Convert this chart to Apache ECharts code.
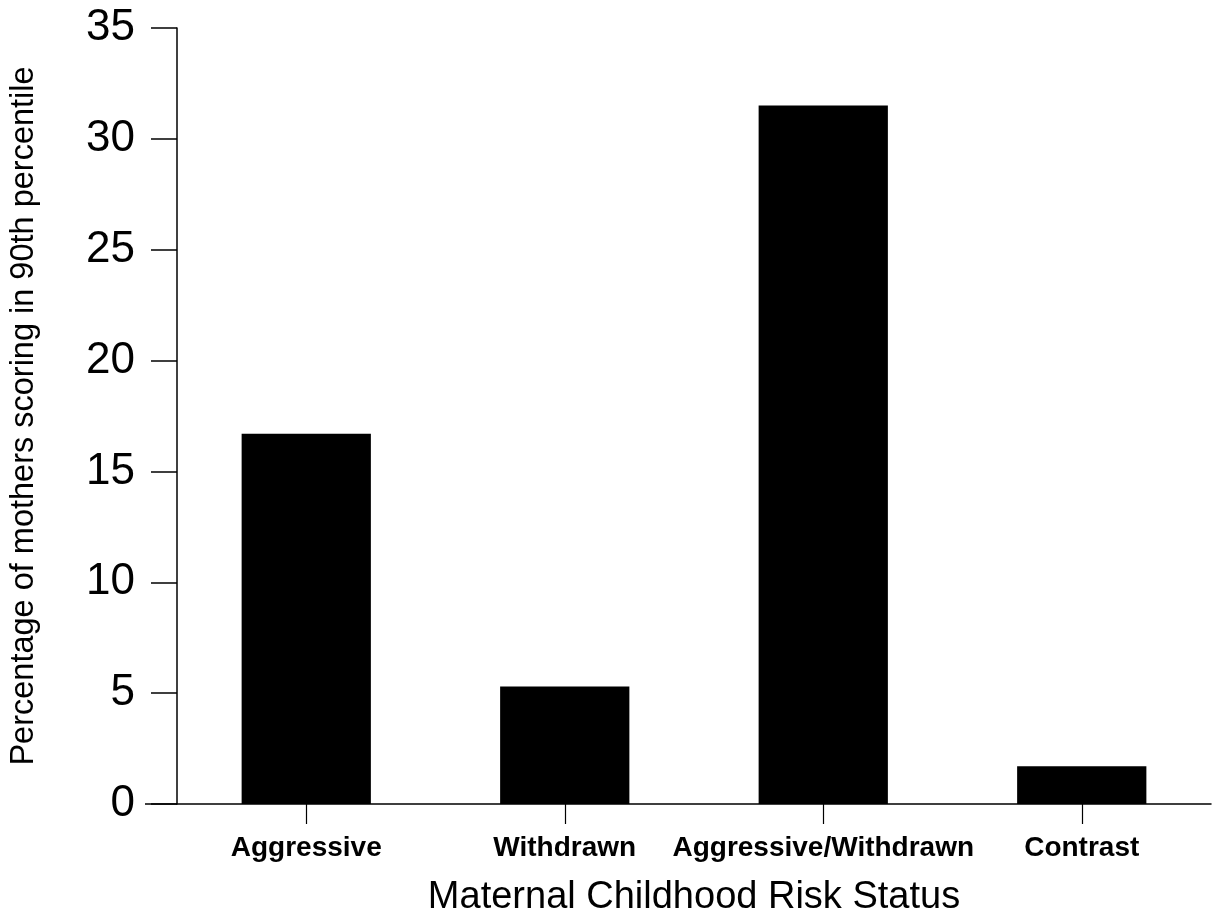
<!DOCTYPE html>
<html>
<head>
<meta charset="utf-8">
<script src="https://cdn.jsdelivr.net/npm/echarts@6/dist/echarts.min.js"></script>
<style>
  html, body { margin: 0; padding: 0; background: #fff; }
  #chart { width: 1213px; height: 922px; }
</style>
</head>
<body>
<div id="chart"></div>
<script>
const categories = ["Aggressive", "Withdrawn", "Aggressive/Withdrawn", "Contrast"];
const percentages = [16.7, 5.3, 31.5, 1.7];
const yTicks = { min: 0, max: 35, interval: 5 };

const FONT = "Liberation Sans, Arial, sans-serif";
const INK = "#000";

const chart = echarts.init(document.getElementById("chart"), null, { renderer: "canvas" });

chart.setOption({
  backgroundColor: "#fff",
  animation: false,
  grid: { left: 177, right: 2, top: 28, bottom: 118, outerBoundsMode: "none" },
  xAxis: {
    type: "category",
    data: categories,
    name: "Maternal Childhood Risk Status",
    nameLocation: "middle",
    nameGap: 75,
    nameTextStyle: { fontFamily: FONT, fontSize: 38, color: INK },
    axisLine: { lineStyle: { color: INK, width: 1.5 } },
    axisTick: { show: true, interval: 0, alignWithLabel: true, length: 20, lineStyle: { color: INK, width: 1.2 } },
    axisLabel: { interval: 0, fontFamily: FONT, fontSize: 28, fontWeight: "bold", color: INK, margin: 30 }
  },
  yAxis: {
    type: "value",
    min: yTicks.min,
    max: yTicks.max,
    interval: yTicks.interval,
    name: "Percentage of mothers scoring in 90th percentile",
    nameLocation: "middle",
    nameGap: 136,
    nameTextStyle: { fontFamily: FONT, fontSize: 32.5, color: INK },
    splitLine: { show: false },
    axisLine: { show: true, lineStyle: { color: INK, width: 1.5 } },
    axisTick: { show: true, length: 26, lineStyle: { color: INK, width: 1.5 } },
    axisLabel: { fontFamily: FONT, fontSize: 44, color: INK, margin: 42 }
  },
  series: [{
    type: "bar",
    data: percentages,
    barWidth: "50%",
    itemStyle: { color: INK }
  }]
});

// the baseline runs a little past the y axis on the left
const zero = chart.convertToPixel({ yAxisIndex: 0 }, 0);
chart.setOption({
  graphic: [{
    type: "line",
    shape: { x1: 145, y1: zero, x2: 177, y2: zero },
    style: { stroke: INK, lineWidth: 1.5 }
  }]
});
</script>
</body>
</html>
